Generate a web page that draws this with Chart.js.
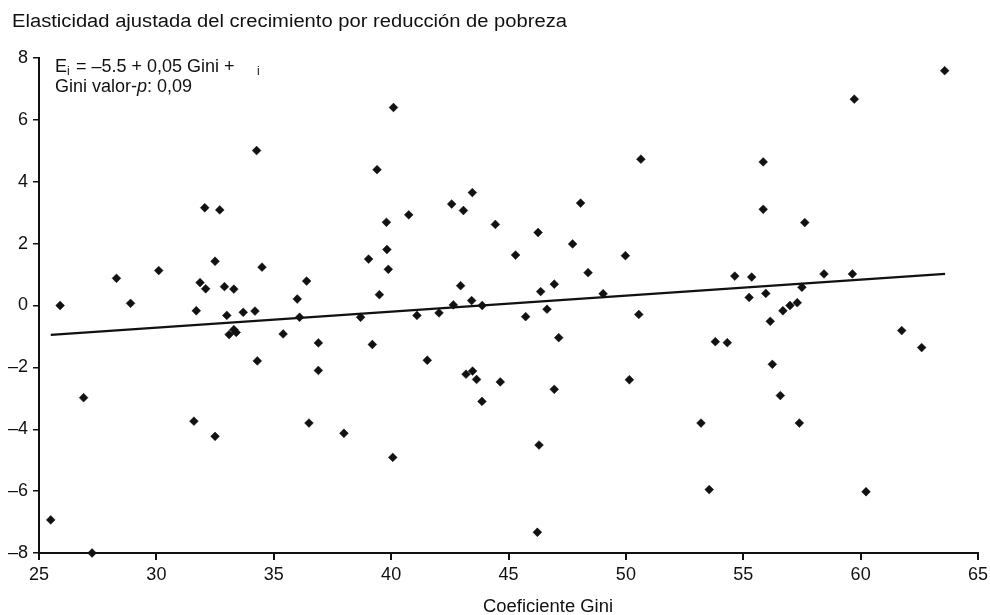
<!DOCTYPE html>
<html>
<head>
<meta charset="utf-8">
<script src="https://cdn.jsdelivr.net/npm/chart.js@4/dist/chart.umd.min.js"></script>
<style>
html,body{margin:0;padding:0;background:#fff;}
#wrap{width:990px;height:615px;position:relative;}
</style>
</head>
<body>
<div id="wrap"><canvas id="c" width="990" height="615"></canvas></div>
<script>
const giniX = [25.9,28.3,28.9,30.1,26.9,31.7,31.86,32.1,32.5,32.9,33.3,33.0,33.1,33.3,33.4,33.7,34.2,34.3,34.5,35.4,36.0,36.4,36.1,36.9,36.9,32.06,32.7,34.27,31.6,32.5,36.5,25.5,27.26,
  40.1,39.4,43.46,42.58,43.08,39.8,40.75,44.44,46.26,48.07,50.64,47.73,39.04,39.82,39.88,45.3,49.98,48.39,39.5,42.96,46.37,46.95,49.03,38.7,41.1,42.04,42.65,43.43,43.88,45.73,46.64,50.55,39.2,47.14,41.54,43.19,43.47,43.64,44.65,46.95,50.15,43.87,37.99,40.07,46.3,46.23,
  63.58,59.73,55.85,55.85,57.62,54.64,55.36,58.44,59.65,55.25,55.96,57.5,56.69,56.99,57.3,56.15,53.81,54.32,61.75,62.6,56.24,56.58,53.2,57.39,53.55,60.23];
const elastY = [0.0,0.88,0.07,1.13,-2.98,-0.17,0.74,0.54,1.43,0.61,0.53,-0.32,-0.94,-0.78,-0.87,-0.22,-0.18,-1.79,1.24,-0.92,0.21,0.79,-0.38,-1.21,-2.10,3.16,3.09,5.01,-3.74,-4.23,-3.80,-6.93,-8.0,
  6.40,4.39,3.65,3.28,3.07,2.69,2.93,2.62,2.36,3.31,4.73,1.99,1.50,1.81,1.17,1.63,1.61,1.06,0.35,0.64,0.45,0.69,0.38,-0.38,-0.32,-0.24,0.02,0.16,0.0,-0.36,-0.12,-0.29,-1.26,-1.04,-1.77,-2.22,-2.12,-2.39,-2.47,-2.71,-2.40,-3.10,-4.13,-4.91,-4.51,-7.33,
  7.59,6.67,4.64,3.11,2.68,0.95,0.92,1.02,1.02,0.26,0.39,0.59,-0.17,0.0,0.09,-0.51,-1.17,-1.20,-0.81,-1.36,-1.90,-2.91,-3.80,-3.80,-5.95,-6.02];
const fitX = [25.5, 63.6];
const fitY = [-0.95, 1.02];
const xTicks = [25,30,35,40,45,50,55,60,65];
const yTicks = [-8,-6,-4,-2,0,2,4,6,8];
const yTickLabels = ['–8','–6','–4','–2','0','2','4','6','8'];
const titleText = 'Elasticidad ajustada del crecimiento por reducción de pobreza';
const xTitle = 'Coeficiente Gini';

const FONT = '"Liberation Sans", Arial, Helvetica, sans-serif';

// draw text stretched horizontally to a target width
function fitText(ctx, txt, x, y, targetW) {
  const w = ctx.measureText(txt).width;
  const sx = targetW / w;
  ctx.save();
  ctx.translate(x, y);
  ctx.scale(sx, 1);
  ctx.fillText(txt, 0, 0);
  ctx.restore();
}

const textPlugin = {
  id: 'texts',
  afterDraw(chart) {
    const ctx = chart.ctx;
    ctx.save();
    ctx.fillStyle = '#111';
    ctx.textBaseline = 'alphabetic';
    ctx.textAlign = 'left';
    // title
    ctx.font = '18px ' + FONT;
    fitText(ctx, titleText, 12, 27, 555);
    // equation
    ctx.font = '18px ' + FONT;
    let x = 55, y = 72;
    ctx.fillText('E', x, y); x += ctx.measureText('E').width;
    ctx.font = '12px ' + FONT;
    ctx.fillText('i', x, y + 3); x += 4;
    ctx.font = '18px ' + FONT;
    ctx.fillText(' = –5.5 + 0,05 Gini +', x, y);
    ctx.font = '12px ' + FONT;
    ctx.fillText('i', 257, y + 3);
    ctx.font = '18px ' + FONT;
    y = 92; x = 55;
    ctx.fillText('Gini valor-', x, y); x += ctx.measureText('Gini valor-').width;
    ctx.font = 'italic 18px ' + FONT;
    ctx.fillText('p', x, y); x += ctx.measureText('p').width;
    ctx.font = '18px ' + FONT;
    ctx.fillText(': 0,09', x, y);
    // x title
    ctx.font = '18px ' + FONT;
    fitText(ctx, xTitle, 483, 612, 130);
    ctx.restore();
  }
};

const pts = giniX.map((v, i) => ({x: v, y: elastY[i]}));
const fit = fitX.map((v, i) => ({x: v, y: fitY[i]}));

new Chart(document.getElementById('c'), {
  type: 'scatter',
  data: {
    datasets: [
      {
        data: fit, showLine: true, borderColor: '#111', borderWidth: 2.2,
        pointRadius: 0, fill: false, order: 2
      },
      {
        data: pts, pointStyle: 'rectRot', pointRadius: 4.4,
        backgroundColor: '#111', borderColor: '#111', borderWidth: 0.5,
        clip: false, order: 1
      }
    ]
  },
  options: {
    responsive: false,
    animation: false,
    layout: {padding: {top: 58, right: 12, left: 0, bottom: 0}},
    plugins: {legend: {display: false}, tooltip: {enabled: false}, title: {display: false}},
    scales: {
      x: {
        type: 'linear', min: 25, max: 65,
        afterBuildTicks: (s) => { s.ticks = xTicks.map(v => ({value: v})); },
        afterFit: (s) => { s.height = 62; s.paddingRight = 0; s.paddingLeft = 0; },
        border: {display: true, color: '#111', width: 2},
        grid: {display: true, drawOnChartArea: false, drawTicks: true, tickLength: 7, color: '#111', lineWidth: 2},
        ticks: {color: '#111', font: {family: FONT, size: 18}, padding: 4, maxRotation: 0}
      },
      y: {
        type: 'linear', min: -8, max: 8,
        afterBuildTicks: (s) => { s.ticks = yTicks.map(v => ({value: v})); },
        afterFit: (s) => { s.width = 39; s.paddingTop = 0; s.paddingBottom = 0; },
        border: {display: true, color: '#111', width: 2},
        grid: {display: true, drawOnChartArea: false, drawTicks: true, tickLength: 6, color: '#111', lineWidth: 1.5},
        ticks: {color: '#111', font: {family: FONT, size: 18}, padding: 5,
          callback: (v) => { const i = yTicks.indexOf(v); return i >= 0 ? yTickLabels[i] : ''; }}
      }
    }
  },
  plugins: [textPlugin]
});
</script>
</body>
</html>
